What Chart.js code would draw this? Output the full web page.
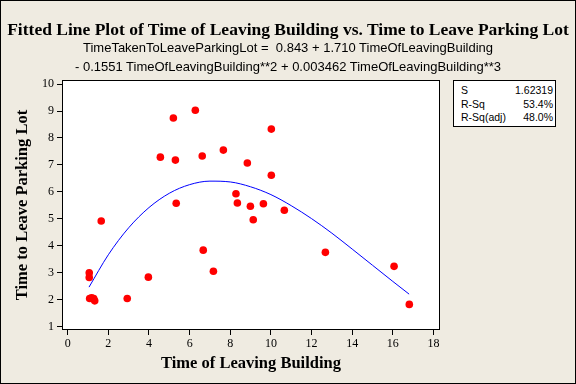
<!DOCTYPE html>
<html>
<head>
<meta charset="utf-8">
<script src="https://cdn.jsdelivr.net/npm/chart.js@4/dist/chart.umd.min.js"></script>
<style>
    html, body { margin: 0; padding: 0; background: #efebe1; }
    #wrap { position: relative; width: 576px; height: 384px; overflow: hidden; }
    #plot { position: absolute; left: 0; top: 0; }
    .title {
        position: absolute; left: 0; width: 576px; top: 19px;
        text-align: center; font: bold 17.5px/20px "Liberation Serif", serif; color: #000;
        white-space: pre;
    }
    .eq {
        position: absolute; left: 0; width: 576px; top: 38px;
        text-align: center; font: 13px/19px "Liberation Sans", sans-serif; color: #000;
        white-space: pre;
    }
    .stats {
        position: absolute; left: 453px; top: 80px; width: 103px;
        border: 1px solid #000; background: #fff;
        font: 10.5px/13.5px "Liberation Sans", sans-serif; color: #000;
        padding: 3px 2px 3px 7px; box-sizing: border-box; height: 47px;
    }
    .stats div { display: flex; justify-content: space-between; }
</style>
</head>
<body>
<div id="wrap">
    <canvas id="plot" width="576" height="384"></canvas>
    <div class="title">Fitted Line Plot of Time of Leaving Building vs. Time to Leave Parking Lot</div>
    <div class="eq">TimeTakenToLeaveParkingLot =  0.843 + 1.710 TimeOfLeavingBuilding
- 0.1551 TimeOfLeavingBuilding**2 + 0.003462 TimeOfLeavingBuilding**3</div>
    <div class="stats">
        <div><span>S</span><span>1.62319</span></div>
        <div><span>R-Sq</span><span>53.4%</span></div>
        <div><span>R-Sq(adj)</span><span>48.0%</span></div>
    </div>
</div>
<script>
    const leaveBuilding = [1.06, 1.06, 1.08, 1.18, 1.28, 1.33, 1.65, 2.93, 3.97, 4.56,
        5.20, 5.30, 5.34, 6.28, 6.62, 6.67, 7.17, 7.66, 8.28, 8.35,
        8.84, 8.99, 9.13, 9.63, 10.02, 10.02, 10.66, 12.68, 16.06, 16.81];
    const leaveLot = [3.00, 2.83, 2.05, 2.07, 2.05, 1.96, 4.92, 2.05, 2.84, 7.29,
        8.74, 7.18, 5.58, 9.03, 7.33, 3.84, 3.06, 7.55, 5.93, 5.59,
        7.07, 5.47, 4.97, 5.56, 8.33, 6.62, 5.32, 3.76, 3.24, 1.83];

    // fitted cubic curve
    const fitX = [1.05, 2, 3, 4, 5, 6, 7, 8, 9, 10, 11, 12, 13, 14, 15, 16, 16.8];
    const fitY = [2.47, 3.67, 4.67, 5.42, 5.95, 6.27, 6.40, 6.37, 6.19, 5.90, 5.49, 5.01, 4.47, 3.88, 3.28, 2.68, 2.21];

    const xTicks = [0, 2, 4, 6, 8, 10, 12, 14, 16, 18];
    const yTicks = [1, 2, 3, 4, 5, 6, 7, 8, 9, 10];

    const framePlugin = {
        id: 'frame',
        beforeDraw(chart) {
            const { ctx, chartArea: a } = chart;
            ctx.save();
            ctx.fillStyle = '#efebe1';
            ctx.fillRect(0, 0, chart.width, chart.height);
            ctx.fillStyle = '#ffffff';
            ctx.fillRect(a.left, a.top, a.right - a.left, a.bottom - a.top);
            ctx.restore();
        },
        afterDraw(chart) {
            const { ctx, chartArea: a } = chart;
            ctx.save();
            ctx.strokeStyle = '#000';
            ctx.lineWidth = 1;
            ctx.strokeRect(a.left + 0.5, a.top + 0.5, a.right - a.left - 1, a.bottom - a.top - 1);
            ctx.strokeRect(0.5, 0.5, chart.width - 1, chart.height - 1);
            ctx.restore();
        }
    };

    document.addEventListener('DOMContentLoaded', function() {
        const ctx = document.getElementById('plot').getContext('2d');
        const tickFont = { family: '"Liberation Serif", serif', size: 12 };
        const titleFont = { family: '"Liberation Serif", serif', size: 16.5, weight: 'bold' };

        new Chart(ctx, {
            type: 'scatter',
            data: {
                datasets: [{
                    label: 'Data',
                    data: leaveBuilding.map((x, i) => ({ x: x, y: leaveLot[i] })),
                    backgroundColor: '#ff0000',
                    borderWidth: 0,
                    pointRadius: 3.8,
                    order: 1
                }, {
                    label: 'Fit',
                    data: fitX.map((x, i) => ({ x: x, y: fitY[i] })),
                    showLine: true,
                    borderColor: '#0000ff',
                    borderWidth: 1,
                    pointRadius: 0,
                    cubicInterpolationMode: 'monotone',
                    order: 2
                }]
            },
            options: {
                responsive: false,
                animation: false,
                layout: { padding: { top: 80, right: 136, left: 0, bottom: 0 } },
                plugins: {
                    legend: { display: false },
                    tooltip: { enabled: false }
                },
                scales: {
                    x: {
                        type: 'linear',
                        min: -0.28,
                        max: 18.32,
                        afterBuildTicks: scale => { scale.ticks = xTicks.map(v => ({ value: v })); },
                        afterFit: scale => { scale.height = 54; },
                        grid: { drawOnChartArea: false, drawTicks: true, tickLength: 5, color: '#000' },
                        border: { display: false },
                        ticks: { font: tickFont, color: '#000', padding: 2, maxRotation: 0 },
                        title: {
                            display: true,
                            text: 'Time of Leaving Building',
                            font: titleFont,
                            color: '#000',
                            padding: { top: 0, bottom: 10 }
                        }
                    },
                    y: {
                        type: 'linear',
                        min: 0.88,
                        max: 10.15,
                        afterBuildTicks: scale => { scale.ticks = yTicks.map(v => ({ value: v })); },
                        afterFit: scale => { scale.width = 62; },
                        grid: { drawOnChartArea: false, drawTicks: true, tickLength: 5, color: '#000' },
                        border: { display: false },
                        ticks: { font: tickFont, color: '#000', padding: 3 },
                        title: {
                            display: true,
                            text: 'Time to Leave Parking Lot',
                            font: titleFont,
                            color: '#000',
                            padding: { top: 13, bottom: 0 }
                        }
                    }
                }
            },
            plugins: [framePlugin]
        });
    });
</script>
</body>
</html>
